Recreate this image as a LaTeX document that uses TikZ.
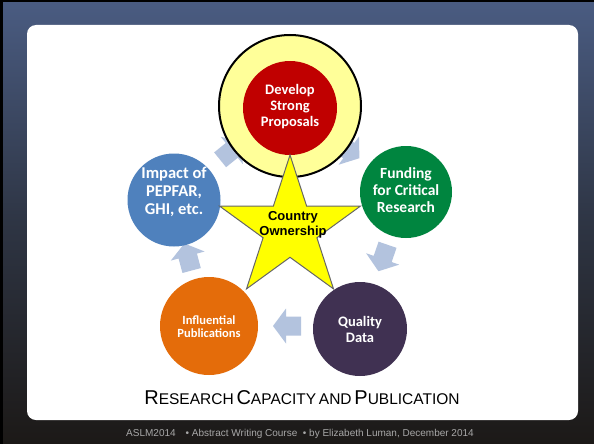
\documentclass[tikz,border=0pt]{standalone}
\usepackage{fontspec}
\newfontfamily\calib{Carlito}
\newfontfamily\arialf{Liberation Sans}
\usetikzlibrary{shapes.geometric}
\definecolor{ringyellow}{HTML}{FFFF99}
\definecolor{cred}{HTML}{C00000}
\definecolor{cblue}{HTML}{4F81BD}
\definecolor{cgreen}{HTML}{00853F}
\definecolor{corange}{HTML}{E46C0A}
\definecolor{cpurple}{HTML}{403152}
\definecolor{arrowcol}{HTML}{B3C3DE}
\definecolor{starcol}{HTML}{FFFF00}
\definecolor{bgtop}{HTML}{4A5C82}
\definecolor{bgmid}{HTML}{2E3544}
\definecolor{bgbot}{HTML}{1C1917}
\definecolor{footgray}{HTML}{A8A8A8}
\newcommand\blockarr[3]{%
  \begin{scope}[shift={(#1,#2)},rotate=#3]
    \fill[arrowcol] (-14,-9.5)--(1,-9.5)--(1,-17.5)--(14,0)--(1,17.5)--(1,9.5)--(-14,9.5)--cycle;
  \end{scope}}
\newcommand\smc[2]{{\fontsize{20}{22}\selectfont #1}{\fontsize{15.5}{17}\selectfont #2}}
\begin{document}
\begin{tikzpicture}[x=1pt,y=-1pt,
  disc/.style={circle,inner sep=0pt,minimum size=#1},
  ctext/.style={text=white,align=center,inner sep=0pt,font=\calib\bfseries\fontsize{#1}{16}\selectfont},
  ]
\useasboundingbox (0,0) rectangle (594,444);
% background
\shade[top color=bgtop,bottom color=bgbot,middle color=bgmid] (0,0) rectangle (594,444);
\fill[black] (0,0) rectangle (594,2.5);
\fill[black] (0,0) rectangle (2.5,444);
% white panel
\fill[white,rounded corners=9pt] (27,25) rectangle (578,420);
% arrows
\blockarr{231}{151}{39}
\blockarr{348}{150}{-36}
\blockarr{383}{258}{-109}
\blockarr{287}{326}{180}
\blockarr{188}{257}{105}
% ring and circles
\node[disc=142pt,draw=black,line width=2pt,fill=ringyellow] (ring) at (290,106) {};
\node[disc=94pt,fill=cred] (red) at (290,108) {};
\node[disc=93pt,fill=cblue] (blue) at (174,200) {};
\node[disc=92pt,fill=cgreen] (green) at (406,192) {};
\node[disc=98pt,fill=corange] (orange) at (209,326) {};
\node[disc=94pt,fill=cpurple] (purple) at (360,329) {};
% star
\begin{scope}[shift={(290,229)}]
\draw[fill=starcol,draw=gray!80!black,line width=1pt,line join=miter]
  (-90:74) -- (-54:28.3) -- (-18:74) -- (18:28.3) -- (54:74) -- (90:28.3)
  -- (126:74) -- (162:28.3) -- (198:74) -- (234:28.3) -- cycle;
\end{scope}
% texts
\node[ctext=14.5] (tred) at (290,107) {Develop\\Strong\\Proposals};
\node[ctext=16,font=\calib\bfseries\fontsize{16.5}{18}\selectfont] (tblue) at (174,192) {Impact of\\PEPFAR,\\GHI, etc.};
\node[ctext=15,font=\calib\bfseries\fontsize{15.5}{17}\selectfont] (tgreen) at (406,190) {Funding\\for Critical\\Research};
\node[ctext=12.5,font=\calib\bfseries\fontsize{12.5}{13.5}\selectfont] (torange) at (209,326.5) {Influential\\Publications};
\node[ctext=14.5,font=\calib\bfseries\fontsize{14.5}{16}\selectfont] (tpurple) at (360,329) {Quality\\Data};
\node[align=center,inner sep=0pt,font=\arialf\bfseries\fontsize{13}{15}\selectfont] (own) at (293,224.5) {Country\\Ownership};
\node[inner sep=0pt,font=\arialf] (title) at (302,398) {\smc{R}{ESEARCH} \smc{C}{APACITY} {\fontsize{15.5}{17}\selectfont AND} \smc{P}{UBLICATION}};
\node[inner sep=0pt,text=footgray,font=\arialf\fontsize{10}{12}\selectfont] (foot) at (300,434) {ASLM2014\quad\textbullet\ Abstract Writing Course\ \ \textbullet\ by Elizabeth Luman, December 2014};
\end{tikzpicture}
\end{document}
